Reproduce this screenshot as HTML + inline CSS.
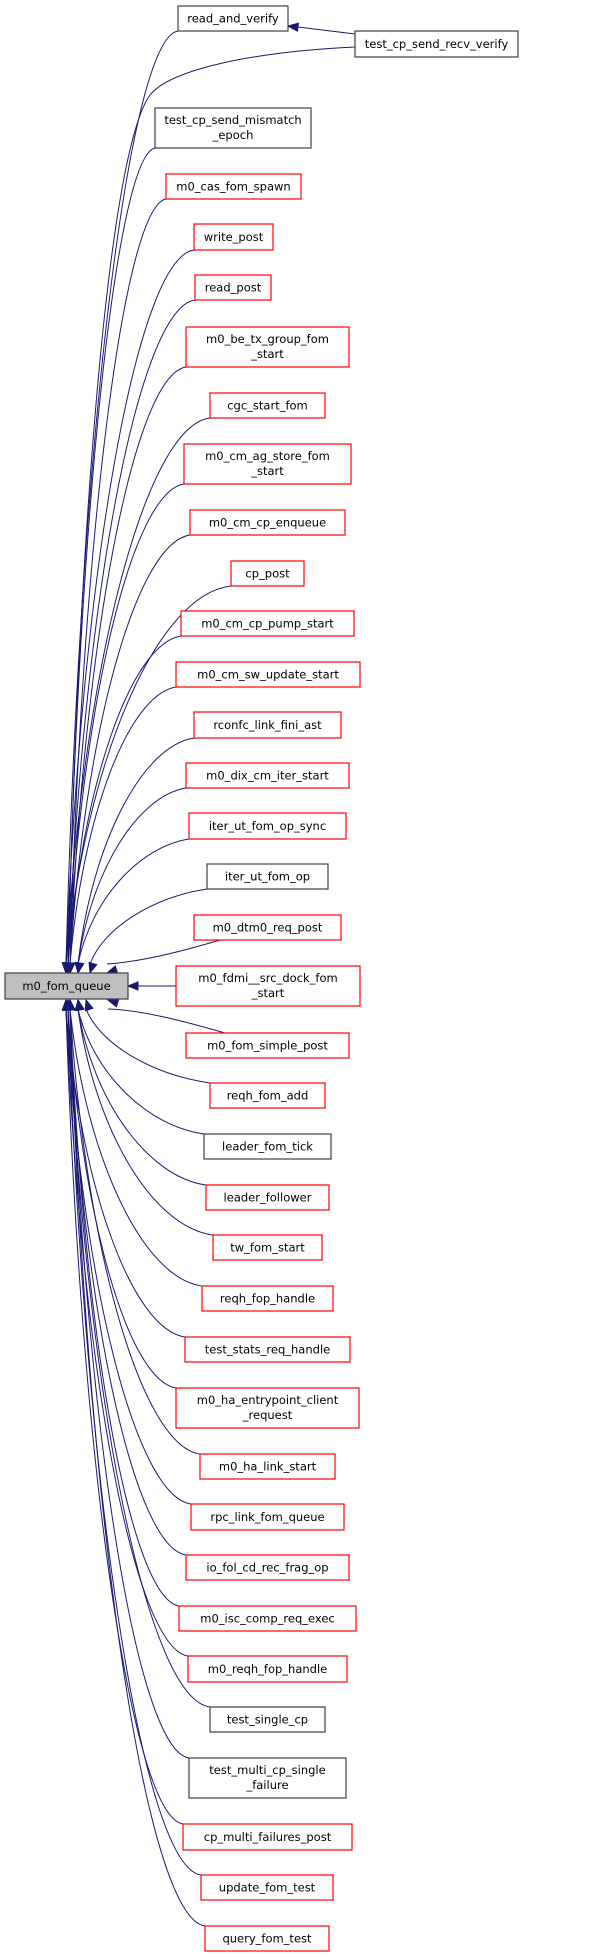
<!DOCTYPE html>
<html><head><meta charset="utf-8"><style>
html,body{margin:0;padding:0;background:#fff;}
svg{display:block;}
text{font-family:"DejaVu Sans","Liberation Sans",sans-serif;font-size:11.5px;fill:#000;}
</style></head><body>
<svg id="s" width="600" height="1957" viewBox="0 0 600 1957" xmlns="http://www.w3.org/2000/svg"></svg>
<script>
var N=[
["read_and_verify",178,6,288,31,"k"],
["test_cp_send_mismatch|_epoch",155,108,311,148,"k"],
["m0_cas_fom_spawn",166,174,301,199,"r"],
["write_post",194,224,273,250,"r"],
["read_post",195,275,271,300,"r"],
["m0_be_tx_group_fom|_start",186,327,349,367,"r"],
["cgc_start_fom",210,393,325,418,"r"],
["m0_cm_ag_store_fom|_start",184,444,351,484,"r"],
["m0_cm_cp_enqueue",190,510,345,535,"r"],
["cp_post",231,561,304,586,"r"],
["m0_cm_cp_pump_start",181,611,354,636,"r"],
["m0_cm_sw_update_start",176,662,360,687,"r"],
["rconfc_link_fini_ast",194,712,341,738,"r"],
["m0_dix_cm_iter_start",186,763,349,788,"r"],
["iter_ut_fom_op_sync",189,813,346,839,"r"],
["iter_ut_fom_op",207,864,328,889,"k"],
["m0_dtm0_req_post",194,915,341,940,"r"],
["m0_fdmi__src_dock_fom|_start",176,966,360,1006,"r"],
["m0_fom_simple_post",186,1033,349,1058,"r"],
["reqh_fom_add",210,1083,325,1108,"r"],
["leader_fom_tick",204,1134,331,1159,"k"],
["leader_follower",206,1185,329,1210,"r"],
["tw_fom_start",213,1235,322,1260,"r"],
["reqh_fop_handle",202,1286,333,1311,"r"],
["test_stats_req_handle",185,1337,350,1362,"r"],
["m0_ha_entrypoint_client|_request",176,1388,359,1428,"r"],
["m0_ha_link_start",200,1454,335,1479,"r"],
["rpc_link_fom_queue",191,1504,344,1530,"r"],
["io_fol_cd_rec_frag_op",186,1555,349,1580,"r"],
["m0_isc_comp_req_exec",179,1606,356,1631,"r"],
["m0_reqh_fop_handle",188,1656,347,1682,"r"],
["test_single_cp",210,1707,325,1732,"k"],
["test_multi_cp_single|_failure",189,1758,346,1798,"k"],
["cp_multi_failures_post",183,1824,352,1850,"r"],
["update_fom_test",201,1875,333,1900,"r"],
["query_fom_test",205,1926,329,1951,"r"]
];
var out=[];var C="#191970";
function box(n,fill){
 var t=n[0].split("|"),x=n[1],y=n[2],w=n[3]-n[1],h=n[4]-n[2],cx=(n[1]+n[3])/2;
 out.push('<rect x="'+x+'" y="'+y+'" width="'+w+'" height="'+h+'" fill="'+(fill||"#fff")+'" stroke="'+(n[5]=="r"?"#ff0000":"#404040")+'" stroke-width="1.2"/>');
 if(t.length==1) out.push('<text x="'+cx+'" y="'+(y+h/2+4)+'" text-anchor="middle">'+t[0]+'</text>');
 else{out.push('<text x="'+cx+'" y="'+(y+16)+'" text-anchor="middle">'+t[0]+'</text>');out.push('<text x="'+cx+'" y="'+(y+31)+'" text-anchor="middle">'+t[1]+'</text>');}
}
function arrow(tx,ty,fx,fy){
 var dx=tx-fx,dy=ty-fy,l=Math.sqrt(dx*dx+dy*dy);dx/=l;dy/=l;
 var bx=tx-dx*10,by=ty-dy*10,px=-dy*4,py=dx*4;
 out.push('<polygon points="'+tx+','+ty+' '+(bx+px)+','+(by+py)+' '+(bx-px)+','+(by-py)+'" fill="'+C+'" stroke="'+C+'"/>');
}
var RY=986;
// edges
N.forEach(function(n,i){
 if(i==17){ // fdmi horizontal
  out.push('<path d="M176,986 L138,986" stroke="'+C+'" fill="none" stroke-width="1"/>');arrow(128,986,176,986);return;}
 var sx=n[1],sy,above=n[4]<973;
 if(above){
  var d=973-n[4];sy=n[4];
  var ex=d<60?108:(d<120?90:(d<250?78:66+ (i%3)*2));
  var ey=973;
  if(i==16){sx=220;sy=940;ex=107;}
  var c1x=sx-(sx-ex)*0.45,c1y=sy+8,c2x=ex+(sx-ex)*0.12,c2y=sy+(ey-sy)*0.45;
  if(i==16){c1x=180;c1y=952;c2x=140;c2y=962;}
  out.push('<path d="M'+sx+','+sy+' C'+c1x+','+c1y+' '+c2x+','+c2y+' '+ex+','+(ey-9)+'" stroke="'+C+'" fill="none" stroke-width="1"/>');
  arrow(ex,ey,c2x,c2y);
 } else {
  var d=n[2]-999;sy=n[2];
  var ex=d<60?108:(d<120?86:(d<250?78:66+(i%3)*2));
  var ey=1000;
  if(i==18){sx=225;sy=1033;}
  var c1x=sx-(sx-ex)*0.45,c1y=sy-8,c2x=ex+(sx-ex)*0.12,c2y=sy-(sy-ey)*0.45;
  if(i==18){c1x=180;c1y=1020;c2x=140;c2y=1010;}
  out.push('<path d="M'+sx+','+sy+' C'+c1x+','+c1y+' '+c2x+','+c2y+' '+ex+','+(ey+9)+'" stroke="'+C+'" fill="none" stroke-width="1"/>');
  arrow(ex,ey,c2x,c2y);
 }
});
// test_cp_send_recv_verify edges
out.push('<path d="M355,47 C250,52 170,70 150,95 C110,150 80,500 68,964" stroke="'+C+'" fill="none" stroke-width="1"/>');
arrow(67,973,68,900);
out.push('<path d="M355,34 L298,27" stroke="'+C+'" fill="none" stroke-width="1"/>');
arrow(288,26,355,34);
N.forEach(function(n){box(n);});
box(["test_cp_send_recv_verify",355,31,518,57,"k"]);
box(["m0_fom_queue",5,973,128,999,"k"],"#bfbfbf");
document.getElementById("s").innerHTML=out.join("");
</script>
</body></html>
